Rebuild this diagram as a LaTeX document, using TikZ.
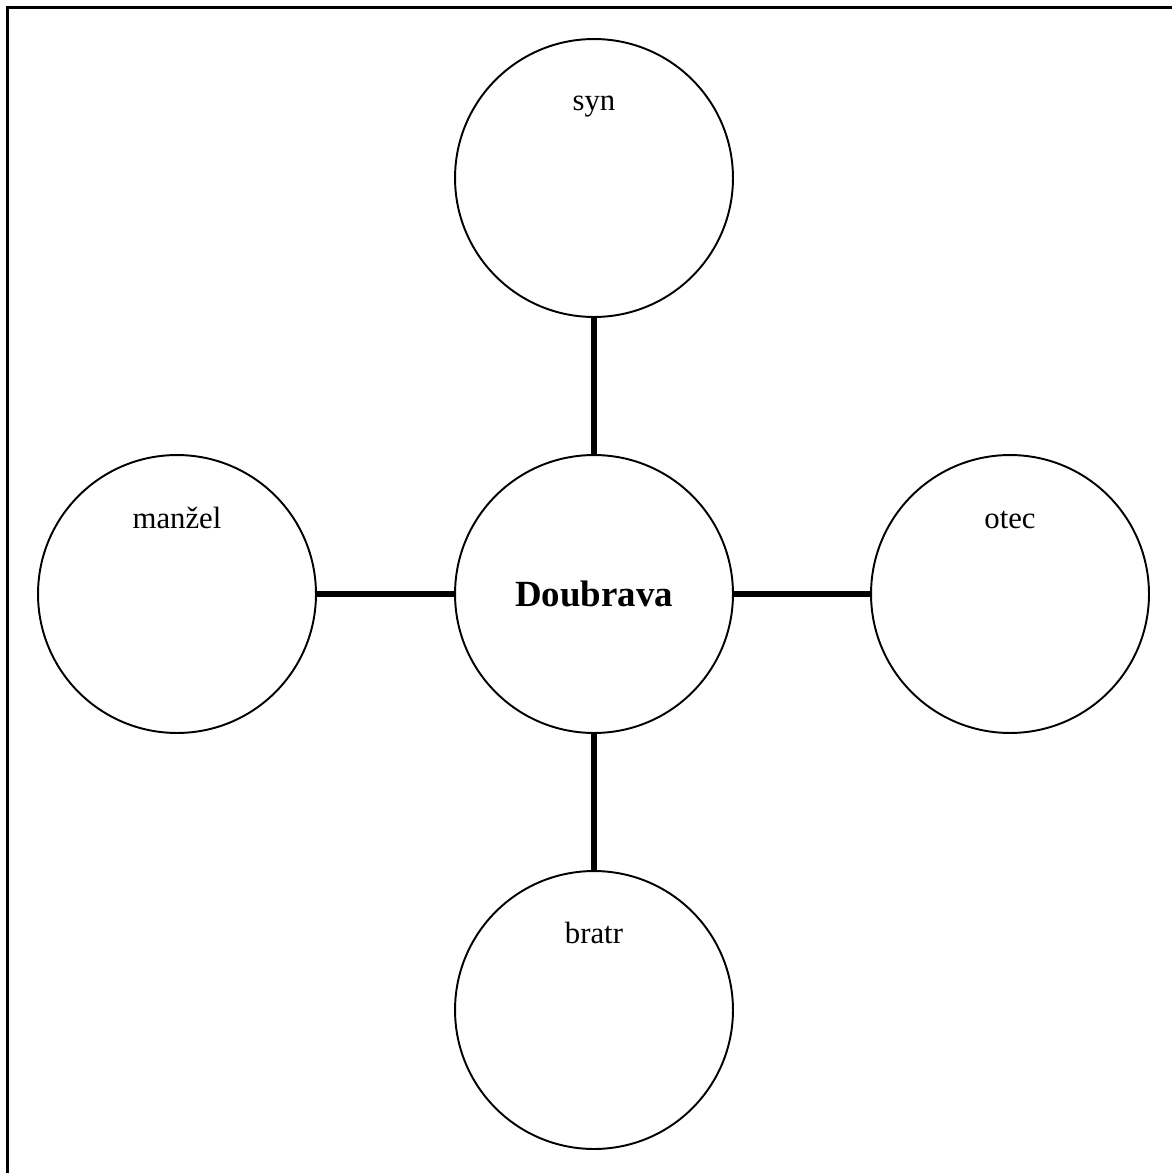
\documentclass[tikz,border=0pt]{standalone}
\usepackage{fontspec}
\setmainfont{Liberation Serif}
\usepackage{tikz}

\tikzset{
  kruh/.style={draw, circle, line width=1.1pt, minimum size=5.56cm, inner sep=0pt},
  popis/.style={anchor=base, inner sep=0pt, font=\fontsize{17.5}{20}\selectfont},
  spoj/.style={line width=3pt}
}

\begin{document}
\begin{tikzpicture}[x=0.02cm, y=-0.02cm]
        \useasboundingbox (0,0) rectangle (1171,1173);
        \draw[line width=1.5pt] (7.5,1200) -- (7.5,7.5) -- (1200,7.5);

        \node[kruh] (stred) at (594,594) {};
        \node[kruh] (syn) at (594,178) {};
        \node[kruh] (manzel) at (177,594) {};
        \node[kruh] (otec) at (1010,594) {};
        \node[kruh] (bratr) at (594,1010) {};

        \node[popis] (synt) at (594,110) {syn};
        \node[popis] (manzelt) at (177,528) {manžel};
        \node[popis] (otect) at (1010,528) {otec};
        \node[popis] (bratrt) at (594,943) {bratr};
        \node[anchor=base, inner sep=0pt, font=\fontsize{21}{24}\selectfont\bfseries] (stredt) at (594,606) {Doubrava};

        \draw[spoj] (syn) -- (stred);
        \draw[spoj] (stred) -- (bratr);
        \draw[spoj] (manzel) -- (stred);
        \draw[spoj] (stred) -- (otec);
    \end{tikzpicture}
\end{document}
